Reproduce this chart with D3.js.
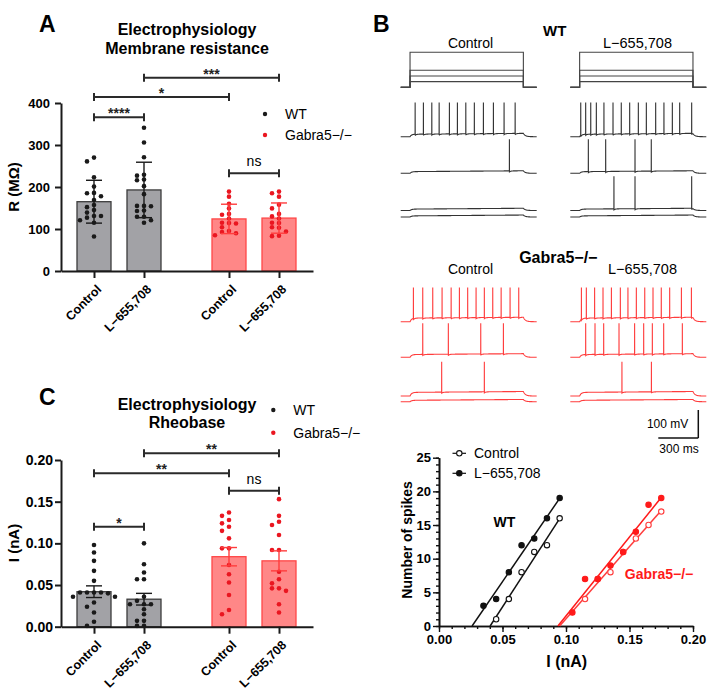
<!DOCTYPE html>
<html><head><meta charset="utf-8">
<script src="https://cdn.jsdelivr.net/npm/d3@7"></script>
<style>
body{margin:0;background:#fff;}
svg{display:block;font-family:'Liberation Sans',Arial,Helvetica,sans-serif;}
</style></head><body>
<svg id="c" width="727" height="696"></svg>
<script>
// ================= DATA =================
const groupNames = ["WT", "Gabra5−/−"];
const barLabels = ["Control", "L−655,708", "Control", "L−655,708"];
const barGroup = [0, 0, 1, 1];

// Panel A: membrane resistance (MΩ)
const resistanceWTControl = [270, 261, 223, 201, 186, 185, 178, 169, 157, 152, 145, 139, 131, 131, 127, 121, 115, 82];
const resistanceWTL655 = [341, 306, 271, 229, 227, 218, 216, 202, 183, 155, 155, 154, 144, 143, 129, 129, 121, 115];
const resistanceKOControl = [189, 177, 160, 149, 136, 134, 125, 115, 114, 113, 104, 95, 93, 90, 85];
const resistanceKOL655 = [189, 185, 177, 158, 149, 136, 130, 125, 115, 114, 104, 103, 94, 84, 83];
const resistanceMean = [165, 193, 124, 126];
const resistanceSD = [51, 66, 35, 36];
const resistanceTicks = [0, 100, 200, 300, 400];
const resistanceSigPairs = [[1, 3], [0, 2], [0, 1], [2, 3]];
const resistanceSigLabels = ["***", "*", "****", "ns"];
const resistanceSigLevels = [460, 414, 366, 233];

// Panel C: rheobase (nA)
const rheobaseWTControl = [0.098, 0.089, 0.079, 0.067, 0.055, 0.041, 0.041, 0.041, 0.041, 0.040, 0.036, 0.036, 0.029, 0.024, 0.017, 0.006, 0.001];
const rheobaseWTL655 = [0.100, 0.075, 0.065, 0.057, 0.057, 0.036, 0.031, 0.027, 0.027, 0.027, 0.021, 0.015, 0.007, 0.007, 0.001, 0.001];
const rheobaseKOControl = [0.137, 0.133, 0.128, 0.124, 0.120, 0.115, 0.106, 0.094, 0.094, 0.074, 0.063, 0.053, 0.038, 0.020, 0.015];
const rheobaseKOL655 = [0.153, 0.133, 0.126, 0.122, 0.110, 0.092, 0.092, 0.066, 0.057, 0.052, 0.046, 0.046, 0.043, 0.027, 0.017];
const rheobaseMean = [0.042, 0.033, 0.084, 0.079];
const rheobaseSEM = [0.007, 0.007, 0.011, 0.012];
const rheobaseTicks = [0, 0.05, 0.10, 0.15, 0.20];
const rheobaseSigPairs = [[1, 3], [0, 2], [2, 3], [0, 1]];
const rheobaseSigLabels = ["**", "**", "ns", "*"];
const rheobaseSigLevels = [0.208, 0.184, 0.163, 0.120];

// Panel B: example traces, spike times (ms after step onset) per sweep (top → bottom)
const spikesWTControl = [[38, 100, 163, 218, 295, 355, 418, 482, 550, 625, 705, 788], [745], [], []];
const spikesWTL655 = [[8, 45, 83, 125, 182, 250, 312, 375, 440, 500, 570, 632, 695, 750, 840], [65, 195, 415, 537], [257, 415, 840], []];
const spikesKOControl = [[25, 95, 170, 240, 308, 370, 432, 495, 557, 620, 683, 750, 815], [95, 287, 530, 700], [237, 557], []];
const spikesKOL655 = [[13, 50, 112, 175, 238, 305, 362, 425, 488, 550, 612, 675, 763, 838], [45, 115, 180, 295, 412, 480, 545, 630, 770], [317, 538], []];
const stepDepolWT = [9, 6, 5, 4];      // mV during step
const stepDepolKO = [13, 10, 13, 5];
const stimCurrents = [0.185, 0.09, 0.06, 0.03]; // nA, step protocol
const stepDuration = 850;  // ms

// Panel B lower: F–I curves (current nA, number of spikes)
const fiCurrentWTControl = [0.045, 0.055, 0.065, 0.075, 0.085, 0.095];
const fiSpikesWTControl = [1, 4, 8, 11, 12, 16];
const fiCurrentWTL655 = [0.035, 0.045, 0.055, 0.065, 0.075, 0.085, 0.095];
const fiSpikesWTL655 = [3, 4, 8, 12, 13, 16, 19];
const fiCurrentKOControl = [0.115, 0.125, 0.135, 0.145, 0.155, 0.165, 0.175];
const fiSpikesKOControl = [4, 7, 8, 11, 13, 15, 17];
const fiCurrentKOL655 = [0.105, 0.115, 0.125, 0.135, 0.145, 0.155, 0.165, 0.175];
const fiSpikesKOL655 = [2, 7, 7, 9, 11, 14, 18, 19];
const fiXTicks = [0, 0.05, 0.10, 0.15, 0.20];
const fiYTicks = [0, 5, 10, 15, 20, 25];

// ================= STYLE =================
const BLACK = "#1a1a1a", GRAY_FILL = "#a2a2a6", GRAY_STROKE = "#3c3c3c";
const RED_FILL = "#ff8787", RED_STROKE = "#ff4747", RED_DOT = "#ea1620", RED_LINE = "#ff3d3d";
const groupDot = [BLACK, RED_DOT];
const svg = d3.select("#c");

function txt(g, x, y, s, size, weight, anchor, fill) {
  return g.append("text").attr("x", x).attr("y", y).text(s)
    .attr("font-size", size).attr("font-weight", weight || "normal")
    .attr("text-anchor", anchor || "start").attr("fill", fill || "#000");
}

// swarm placement of dots
function swarm(values, yScale, cx, dx, minDist) {
  const pts = values.map(v => ({ v, y: yScale(v) })).sort((a, b) => a.y - b.y);
  const placed = [];
  for (const p of pts) {
    for (const k of [0, -1, 1, -2, 2, -3, 3]) {
      const x = cx + k * dx;
      if (!placed.some(q => Math.abs(q.x - x) < dx * 0.9 && Math.abs(q.y - p.y) < minDist)) {
        p.x = x; placed.push(p); break;
      }
    }
  }
  return placed;
}

// ================= BAR PANELS =================
const slots = [0, 1, 2.7, 3.7];
function barPanel(o) {
  const g = svg.append("g");
  const x = d3.scaleLinear().domain([-0.66, 4.38]).range([61, 313]);
  const y = d3.scaleLinear().domain(o.domain).range(o.yRange);
  // bars
  g.selectAll("rect.bar").data(o.means).join("rect")
    .attr("x", (d, i) => x(slots[i]) - 17).attr("width", 34)
    .attr("y", d => y(d)).attr("height", d => y(0) - y(d))
    .attr("fill", (d, i) => barGroup[i] ? RED_FILL : GRAY_FILL)
    .attr("stroke", (d, i) => barGroup[i] ? RED_STROKE : GRAY_STROKE).attr("stroke-width", 1.3);
  // dots
  o.points.forEach((vals, i) => {
    const pl = swarm(vals, y, x(slots[i]), 7, 4.6);
    g.selectAll(null).data(pl).join("circle")
      .attr("cx", d => d.x).attr("cy", d => d.y).attr("r", 2.3)
      .attr("fill", groupDot[barGroup[i]]);
  });
  // error bars
  o.means.forEach((m, i) => {
    const c = barGroup[i] ? RED_LINE : BLACK;
    const cx = x(slots[i]);
    const lo = Math.max(0, m - o.errs[i]), hi = m + o.errs[i];
    g.append("line").attr("x1", cx).attr("x2", cx).attr("y1", y(lo)).attr("y2", y(hi)).attr("stroke", c).attr("stroke-width", 1.4);
    [hi, lo].forEach(v => g.append("line").attr("x1", cx - 8).attr("x2", cx + 8).attr("y1", y(v)).attr("y2", y(v)).attr("stroke", c).attr("stroke-width", 1.4));
  });
  // axes
  const ya = g.append("g").attr("transform", "translate(61,0)")
    .call(d3.axisLeft(y).tickValues(o.ticks).tickFormat(o.fmt).tickSize(6).tickSizeOuter(0).tickPadding(o.pad));
  ya.select(".domain").attr("stroke-width", 2).attr("stroke", BLACK);
  ya.selectAll(".tick line").attr("stroke-width", 2).attr("stroke", BLACK);
  ya.selectAll(".tick text").attr("font-size", o.tickSize).attr("font-weight", "bold").attr("font-family", "'Liberation Sans',Arial,sans-serif").attr("fill", "#000");
  const xa = g.append("g").attr("transform", `translate(0,${y(0)})`)
    .call(d3.axisBottom(x).tickValues(slots).tickFormat("").tickSize(7).tickSizeOuter(0));
  xa.select(".domain").attr("stroke-width", 2).attr("stroke", BLACK);
  xa.selectAll(".tick line").attr("stroke-width", 2).attr("stroke", BLACK);
  barLabels.forEach((s, i) => {
    g.append("text").attr("transform", `translate(${x(slots[i]) + 5},${y(0) + 16}) rotate(-45)`)
      .attr("text-anchor", "end").attr("dy", "0.35em").attr("font-size", 12.5).attr("font-weight", "bold").text(s);
  });
  // y label
  g.append("text").attr("transform", `translate(14,${o.labelY}) rotate(-90)`).attr("text-anchor", "middle")
    .attr("dy", "0.35em").attr("font-size", 15).attr("font-weight", "bold").text(o.label);
  // significance
  o.sigPairs.forEach((p, k) => {
    const x1 = x(slots[p[0]]), x2 = x(slots[p[1]]), yy = y(o.sigLevels[k]);
    g.append("line").attr("x1", x1).attr("x2", x2).attr("y1", yy).attr("y2", yy).attr("stroke", "#2a2a2a").attr("stroke-width", 2);
    [x1, x2].forEach(xx => g.append("line").attr("x1", xx).attr("x2", xx).attr("y1", yy - 4).attr("y2", yy + 4).attr("stroke", "#2a2a2a").attr("stroke-width", 2));
    const lab = o.sigLabels[k];
    if (lab === "ns") txt(g, (x1 + x2) / 2, yy - 7, lab, 14, "normal", "middle");
    else txt(g, (x1 + x2) / 2, yy + 1, lab, 14, "bold", "middle", "#222");
  });
  // titles
  txt(g, 187, o.titleY[0], "Electrophysiology", 16, "bold", "middle");
  txt(g, 187, o.titleY[1], o.title2, 16, "bold", "middle");
  txt(g, 39, o.letterY, o.letter, 23, "bold", "start");
  // legend
  groupNames.forEach((n, i) => {
    g.append("circle").attr("cx", o.legX).attr("cy", o.legY[i]).attr("r", 2.2).attr("fill", groupDot[i]);
    txt(g, o.legX + 20, o.legY[i], n, 14, "normal", "start").attr("dy", "0.35em");
  });
}

barPanel({
  domain: [0, 400], yRange: [271, 103], means: resistanceMean, errs: resistanceSD,
  points: [resistanceWTControl, resistanceWTL655, resistanceKOControl, resistanceKOL655],
  ticks: resistanceTicks, fmt: d3.format("d"), pad: 5, tickSize: 13,
  label: "R (MΩ)", labelY: 187,
  sigPairs: resistanceSigPairs, sigLabels: resistanceSigLabels, sigLevels: resistanceSigLevels,
  titleY: [35, 53.5], title2: "Membrane resistance", letter: "A", letterY: 31.5,
  legX: 265, legY: [114, 135]
});
barPanel({
  domain: [0, 0.2], yRange: [626.7, 460], means: rheobaseMean, errs: rheobaseSEM,
  points: [rheobaseWTControl, rheobaseWTL655, rheobaseKOControl, rheobaseKOL655],
  ticks: rheobaseTicks, fmt: d3.format(".2f"), pad: 2, tickSize: 14,
  label: "I (nA)", labelY: 543,
  sigPairs: rheobaseSigPairs, sigLabels: rheobaseSigLabels, sigLevels: rheobaseSigLevels,
  titleY: [410, 428.3], title2: "Rheobase", letter: "C", letterY: 405,
  legX: 273.3, legY: [410, 432.7]
});

// ================= PANEL B: TRACES =================
const gB = svg.append("g");
txt(gB, 373, 31.5, "B", 23, "bold");
const xT = d3.scaleLinear().domain([-70, 950]).range([0, 136]);
const colLeft = [400.7, 570.3];
const mvPx = 0.28;

function voltageAt(t, dep, spikes) {
  const rest = -70, drift = 3;
  let v;
  if (t < 0) v = rest;
  else if (t <= stepDuration) v = rest + dep * (1 - Math.exp(-t / 12)) + drift * t / stepDuration;
  else {
    const vEnd = rest + dep * (1 - Math.exp(-stepDuration / 12)) + drift;
    v = rest + (vEnd - rest) * Math.exp(-(t - stepDuration) / 15);
  }
  for (const s of spikes) if (t > s) v -= 4 * Math.exp(-(t - s) / 10);
  return v;
}
function tracePath(spikes, dep, col, base, color) {
  const yV = d3.scaleLinear().domain([-70, 52]).range([base, base - 122 * mvPx]);
  const times = d3.range(-70, 950.1, 2);
  const pts = [];
  const sp = spikes.slice().sort((a, b) => a - b);
  let si = 0;
  for (const t of times) {
    while (si < sp.length && sp[si] <= t) {
      const s = sp[si];
      pts.push([s, voltageAt(s - 0.01, dep, sp)]);
      pts.push([s + 0.3, 52]);
      pts.push([s + 0.8, voltageAt(s + 0.8, dep, sp)]);
      si++;
    }
    pts.push([t, voltageAt(t, dep, sp)]);
  }
  const line = d3.line().x(d => colLeft[col] + xT(d[0])).y(d => yV(d[1]));
  gB.append("path").attr("d", line(pts)).attr("fill", "none").attr("stroke", color).attr("stroke-width", 1.1);
}
const wtBases = [136.7, 173.3, 210.5, 217.0];
const koBases = [321.7, 357.3, 396.0, 401.7];
[spikesWTControl, spikesWTL655].forEach((sw, col) => sw.forEach((s, k) => tracePath(s, stepDepolWT[k], col, wtBases[k], "#333")));
[spikesKOControl, spikesKOL655].forEach((sw, col) => sw.forEach((s, k) => tracePath(s, stepDepolKO[k], col, koBases[k], RED_LINE)));

// stimulus protocol
const yStim = d3.scaleLinear().domain([0, 0.185]).range([87.3, 52.3]);
[0, 1].forEach(col => stimCurrents.forEach(I => {
  const pts = [[-70, 0], [0, 0], [0, I], [stepDuration, I], [stepDuration, 0], [950, 0]];
  gB.append("path").attr("d", d3.line().x(d => colLeft[col] + xT(d[0])).y(d => yStim(d[1]))(pts))
    .attr("fill", "none").attr("stroke", "#444").attr("stroke-width", 1.1);
}));
txt(gB, 554.7, 36, "WT", 15, "bold", "middle");
txt(gB, 470.5, 48.3, "Control", 14, "normal", "middle");
txt(gB, 637.5, 48.3, "L−655,708", 14.5, "normal", "middle");
txt(gB, 558.3, 263.3, "Gabra5−/−", 16, "bold", "middle");
txt(gB, 470.5, 274, "Control", 14, "normal", "middle");
txt(gB, 642.5, 274, "L−655,708", 14.5, "normal", "middle");

// scale bar
const sbX = 698.3, sbY = 438;
gB.append("line").attr("x1", sbX).attr("x2", sbX).attr("y1", sbY).attr("y2", sbY - 100 * mvPx).attr("stroke", "#111").attr("stroke-width", 1.5);
gB.append("line").attr("x1", sbX - (xT(300) - xT(0))).attr("x2", sbX).attr("y1", sbY).attr("y2", sbY).attr("stroke", "#111").attr("stroke-width", 1.5);
txt(gB, 688.3, 428.3, "100 mV", 12, "normal", "end");
txt(gB, 679, 453.3, "300 ms", 12, "normal", "middle");

// ================= PANEL B: F–I =================
const gS = svg.append("g");
const xS = d3.scaleLinear().domain([0, 0.2]).range([439, 693]);
const yS = d3.scaleLinear().domain([0, 25]).range([626, 457.7]);
function styleAxis(a) {
  a.select(".domain").attr("stroke", "#111").attr("stroke-width", 1.6);
  a.selectAll(".tick line").attr("stroke", "#111").attr("stroke-width", 1.4);
  a.selectAll(".tick text").attr("font-size", 13).attr("font-weight", "bold").attr("fill", "#000").attr("font-family", "'Liberation Sans',Arial,sans-serif");
}
const xMinor = gS.append("g").attr("transform", "translate(0,626)").call(d3.axisBottom(xS).tickValues(d3.range(0, 21).map(i => i / 100)).tickFormat("").tickSize(3).tickSizeOuter(0));
styleAxis(xMinor);
const yMinor = gS.append("g").attr("transform", "translate(439,0)").call(d3.axisLeft(yS).tickValues(d3.range(0, 26)).tickFormat("").tickSize(3).tickSizeOuter(0));
styleAxis(yMinor);
const xAx = gS.append("g").attr("transform", "translate(0,626)").call(d3.axisBottom(xS).tickValues(fiXTicks).tickFormat(d3.format(".2f")).tickSize(6).tickSizeOuter(0).tickPadding(3));
styleAxis(xAx);
const yAx = gS.append("g").attr("transform", "translate(439,0)").call(d3.axisLeft(yS).tickValues(fiYTicks).tickSize(6).tickSizeOuter(0).tickPadding(2));
styleAxis(yAx);
gS.append("text").attr("transform", "translate(406.7,540) rotate(-90)").attr("text-anchor", "middle").attr("dy", "0.35em")
  .attr("font-size", 14).attr("font-weight", "bold").text("Number of spikes");
txt(gS, 566.7, 666.5, "I (nA)", 16, "bold", "middle");

function regression(xs, ys) {
  const mx = d3.mean(xs), my = d3.mean(ys);
  const sxy = d3.sum(xs, (x, i) => (x - mx) * (ys[i] - my));
  const sxx = d3.sum(xs, x => (x - mx) * (x - mx));
  const b = sxy / sxx, a = my - b * mx;
  return { a, b };
}
function fiSeries(xs, ys, color, filled) {
  const r = regression(xs, ys);
  const x0 = -r.a / r.b, x1 = d3.max(xs);
  gS.append("line").attr("x1", xS(x0)).attr("y1", yS(0)).attr("x2", xS(x1)).attr("y2", yS(r.a + r.b * x1))
    .attr("stroke", color).attr("stroke-width", 1.5);
  return () => gS.selectAll(null).data(xs).join("circle")
    .attr("cx", d => xS(d)).attr("cy", (d, i) => yS(ys[i])).attr("r", 2.7)
    .attr("fill", filled ? color : "#fff").attr("stroke", color).attr("stroke-width", 1.1);
}
const dWC = fiSeries(fiCurrentWTControl, fiSpikesWTControl, "#111", false);
const dWL = fiSeries(fiCurrentWTL655, fiSpikesWTL655, "#111", true);
const dKC = fiSeries(fiCurrentKOControl, fiSpikesKOControl, RED_LINE, false);
const dKL = fiSeries(fiCurrentKOL655, fiSpikesKOL655, "#ff1a1a", true);
dWC(); dWL(); dKC(); dKL();

// legend
[["Control", false, 453.3], ["L−655,708", true, 473.3]].forEach(([n, f, yy]) => {
  gS.append("line").attr("x1", 452.5).attr("x2", 466).attr("y1", yy).attr("y2", yy).attr("stroke", "#111").attr("stroke-width", 1.2);
  gS.append("circle").attr("cx", 459.3).attr("cy", yy).attr("r", 2.7).attr("fill", f ? "#111" : "#fff").attr("stroke", "#111").attr("stroke-width", 1.1);
  txt(gS, 474, yy, n, 14, "normal", "start").attr("dy", "0.35em");
});
txt(gS, 504.5, 527.3, "WT", 14, "bold", "middle");
txt(gS, 659, 579.3, "Gabra5−/−", 14, "bold", "middle", "#ff1a1a");
</script>
</body></html>
